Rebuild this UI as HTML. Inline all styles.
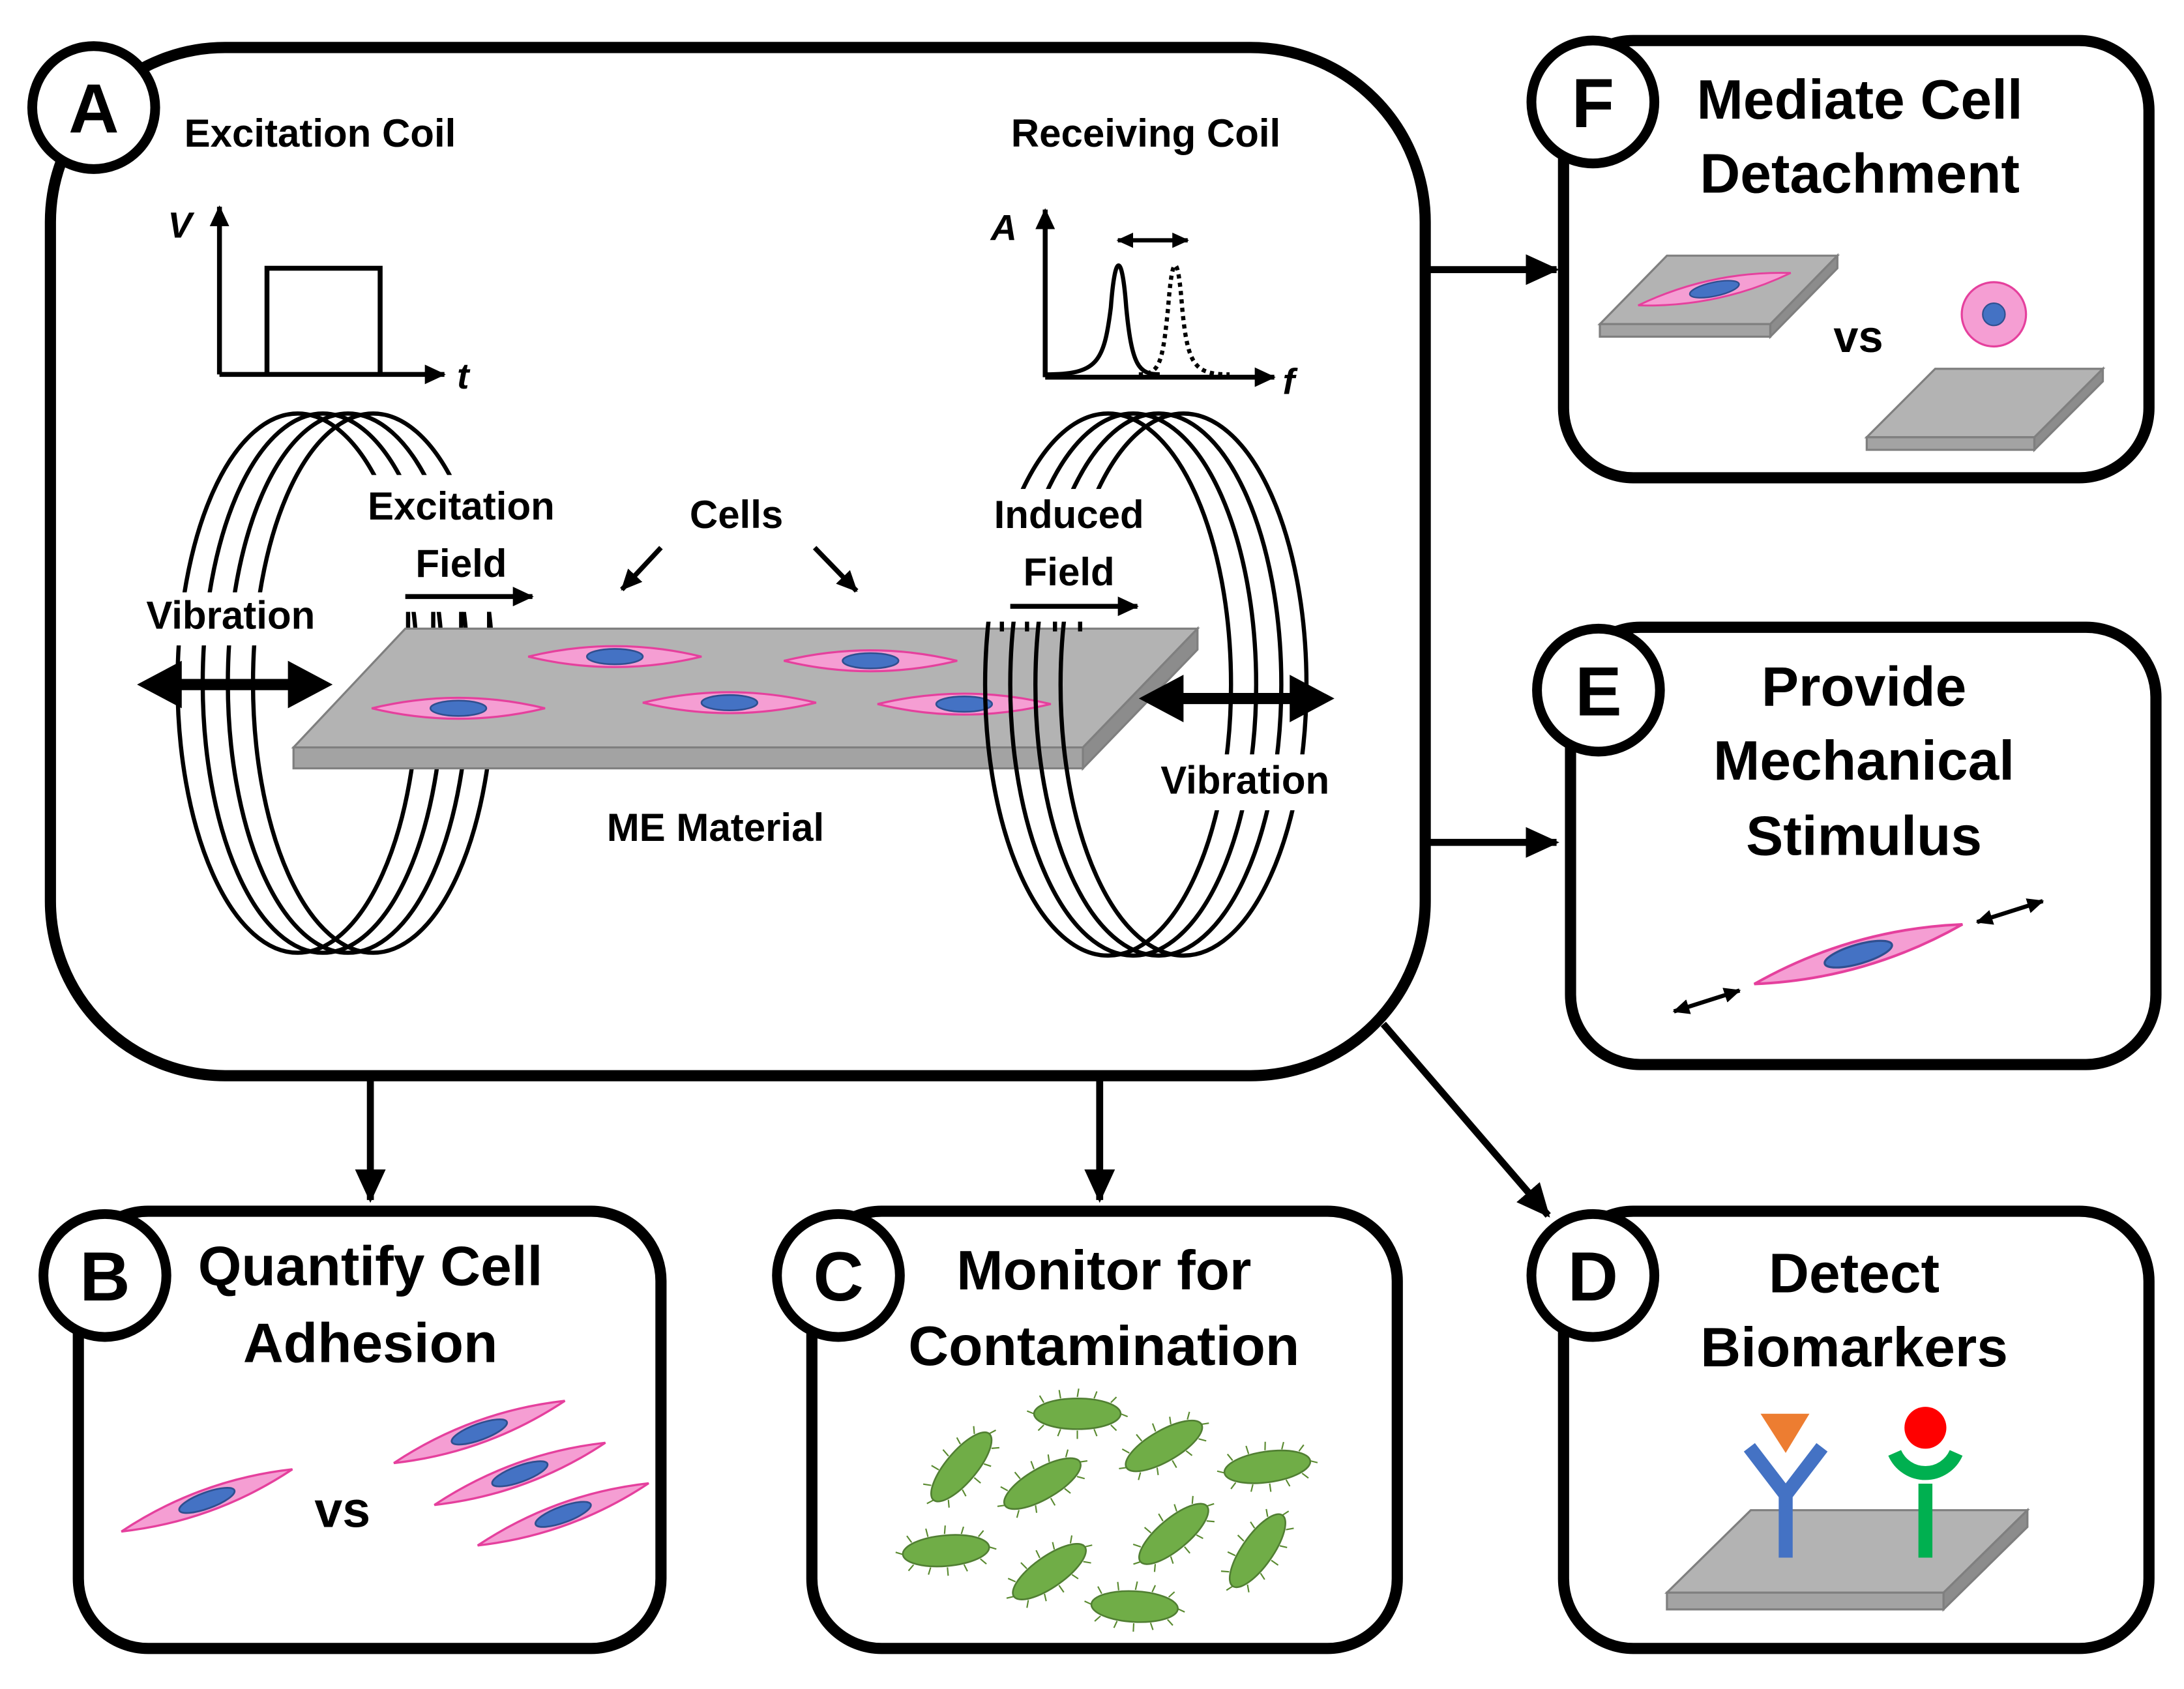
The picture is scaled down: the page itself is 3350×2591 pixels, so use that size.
<!DOCTYPE html>
<html><head><meta charset="utf-8"><style>
html,body{margin:0;padding:0;background:#fff}
svg{display:block}
text{font-family:"Liberation Sans",sans-serif;font-weight:bold;fill:#000}
</style></head><body>
<svg width="3350" height="2591" viewBox="0 0 1563 1209" xmlns="http://www.w3.org/2000/svg">
<defs>
<marker id="big" markerWidth="24" markerHeight="22" refX="22" refY="11" orient="auto" markerUnits="userSpaceOnUse"><path d="M0,0 L24,11 L0,22 z" fill="#000"/></marker>
<marker id="sm" markerWidth="15" markerHeight="14" refX="14" refY="7" orient="auto-start-reverse" markerUnits="userSpaceOnUse"><path d="M0,0 L15,7 L0,14 z" fill="#000"/></marker>
<marker id="xs" markerWidth="12" markerHeight="11" refX="11" refY="5.5" orient="auto-start-reverse" markerUnits="userSpaceOnUse"><path d="M0,0 L12,5.5 L0,11 z" fill="#000"/></marker>
<g id="cell"><path d="M-62,0 Q0,-15 62,0 Q0,15 -62,0 z" fill="#f59ed3" stroke="#e5409d" stroke-width="1.5"/><ellipse cx="0" cy="0" rx="20" ry="5.5" fill="#4472c4" stroke="#2f4f8f" stroke-width="1.2"/></g>
<g id="bac"><g stroke="#5a8a30" stroke-width="1" fill="none">
<path d="M-24,-8 l-3,-5 M-12,-11 l-1,-6 M0,-12 l1,-6 M12,-11 l2,-5 M24,-8 l4,-4 M-24,8 l-4,4 M-12,11 l-2,5 M0,12 l0,6 M12,11 l2,5 M24,8 l4,4 M-31,0 l-5,-2 M31,0 l5,2"/></g>
<ellipse rx="31" ry="11" fill="#70ad47" stroke="#507e32" stroke-width="1.2"/></g>
</defs>

<!-- connectors -->
<g stroke="#000" stroke-width="5" fill="none">
<line x1="1020" y1="193" x2="1114" y2="193" marker-end="url(#big)"/>
<line x1="1020" y1="603" x2="1114" y2="603" marker-end="url(#big)"/>
<line x1="265" y1="770" x2="265" y2="859" marker-end="url(#big)"/>
<line x1="787" y1="770" x2="787" y2="859" marker-end="url(#big)"/>
<line x1="990" y1="733" x2="1108" y2="870" marker-end="url(#big)"/>
</g>

<!-- boxes -->
<g fill="#fff" stroke="#000" stroke-width="8">
<rect x="36" y="34" width="984" height="736" rx="125"/>
<rect x="1119" y="29" width="419" height="313" rx="50"/>
<rect x="1124" y="449" width="419" height="313" rx="50"/>
<rect x="56" y="867" width="417" height="313" rx="50"/>
<rect x="581" y="867" width="419" height="313" rx="50"/>
<rect x="1119" y="867" width="419" height="313" rx="50"/>
</g>
<g fill="#fff" stroke="#000" stroke-width="7">
<circle cx="67" cy="77" r="44"/><circle cx="1140" cy="73" r="44"/><circle cx="1144" cy="494" r="44"/>
<circle cx="75" cy="913" r="44"/><circle cx="600" cy="913" r="44"/><circle cx="1140" cy="913" r="44"/>
</g>
<g font-size="50" text-anchor="middle">
<text x="67" y="95">A</text><text x="1140" y="91">F</text><text x="1144" y="512">E</text>
<text x="75" y="931">B</text><text x="600" y="931">C</text><text x="1140" y="931">D</text>
</g>

<!-- graphs -->
<g stroke="#000" stroke-width="3.5" fill="none">
<line x1="157" y1="268" x2="157" y2="148" marker-end="url(#sm)"/>
<line x1="157" y1="268" x2="318" y2="268" marker-end="url(#sm)"/>
<path d="M191,268 V192 H272 V268"/>
<line x1="748" y1="270" x2="748" y2="150" marker-end="url(#sm)"/>
<line x1="748" y1="270" x2="912" y2="270" marker-end="url(#sm)"/>
<path d="M748,268 C785,268 790,260 795,220 C798,180 803,180 806,220 C810,262 815,268 830,268" stroke-width="3"/>
<path d="M815,268 C830,268 832,260 836,220 C839,180 843,180 846,220 C850,262 855,268 880,268" stroke-dasharray="3,3" stroke-width="3"/>
<line x1="800" y1="172" x2="850" y2="172" stroke-width="3" marker-start="url(#xs)" marker-end="url(#xs)"/>
</g>
<g font-size="26" font-style="italic">
<text x="120" y="170">V</text><text x="327" y="278">t</text>
<text x="709" y="172">A</text><text x="918" y="282">f</text>
</g>

<!-- left coil (behind plate) -->
<g stroke="#000" stroke-width="3" fill="none">
<ellipse cx="213" cy="489" rx="86" ry="193"/><ellipse cx="231" cy="489" rx="86" ry="193"/>
<ellipse cx="249" cy="489" rx="86" ry="193"/><ellipse cx="267" cy="489" rx="86" ry="193"/>
</g>
<!-- white label backs -->
<g fill="#fff">
<rect x="258" y="340" width="145" height="98"/>
<rect x="96" y="424" width="140" height="38"/>
</g>
<g stroke="#000" stroke-width="3" fill="none">
<path d="M292,438 V450 M310,438 V450 M330,438 V450 M350,438 V450"/>
</g>
<!-- plate -->
<g stroke="#7f7f7f" stroke-width="1.5">
<path d="M210,535 L290,450 L857,450 L775,535 z" fill="#b3b3b3"/>
<path d="M210,535 H775 V550 H210 z" fill="#a3a3a3"/>
<path d="M775,535 L857,450 V465 L775,550 z" fill="#8c8c8c"/>
</g>
<use href="#cell" transform="translate(440,470)"/>
<use href="#cell" transform="translate(623,473)"/>
<use href="#cell" transform="translate(328,507)"/>
<use href="#cell" transform="translate(522,503)"/>
<use href="#cell" transform="translate(690,504)"/>
<!-- right coil (front) -->
<g stroke="#000" stroke-width="3" fill="none">
<ellipse cx="793" cy="490" rx="88" ry="194"/><ellipse cx="811" cy="490" rx="88" ry="194"/>
<ellipse cx="829" cy="490" rx="88" ry="194"/><ellipse cx="847" cy="490" rx="88" ry="194"/>
</g>
<g fill="#fff">
<rect x="703" y="350" width="120" height="95"/>
<rect x="823" y="540" width="138" height="40"/>
</g>
<g stroke="#000" stroke-width="3" fill="none">
<path d="M717,445 V452 M735,445 V452 M755,445 V452 M773,445 V452"/>
</g>

<g font-size="28" text-anchor="middle">
<text x="229" y="105">Excitation Coil</text>
<text x="820" y="105">Receiving Coil</text>
<text x="330" y="372">Excitation</text><text x="330" y="413">Field</text>
<text x="527" y="378">Cells</text>
<text x="765" y="378">Induced</text><text x="765" y="419">Field</text>
<text x="165" y="450">Vibration</text>
<text x="891" y="568">Vibration</text>
<text x="512" y="602">ME Material</text>
</g>
<g stroke="#000" stroke-width="3.5" fill="none">
<line x1="290" y1="427" x2="381" y2="427" marker-end="url(#sm)"/>
<line x1="723" y1="434" x2="814" y2="434" marker-end="url(#sm)"/>
<line x1="473" y1="392" x2="445" y2="422" marker-end="url(#sm)"/>
<line x1="583" y1="392" x2="613" y2="423" marker-end="url(#sm)"/>
</g>
<!-- thick vibration arrows -->
<g fill="#000">
<path d="M98,490 L130,473 L130,486 L206,486 L206,473 L238,490 L206,507 L206,494 L130,494 L130,507 z"/>
<path d="M815,500 L847,483 L847,496 L923,496 L923,483 L955,500 L923,517 L923,504 L847,504 L847,517 z"/>
</g>

<!-- F -->
<g font-size="40" text-anchor="middle"><text x="1331" y="85">Mediate Cell</text><text x="1331" y="138">Detachment</text></g>
<g stroke="#7f7f7f" stroke-width="1.5">
<path d="M1145,232 L1193,183 L1315,183 L1267,232 z" fill="#b3b3b3"/><path d="M1145,232 H1267 V241 H1145 z" fill="#a3a3a3"/><path d="M1267,232 L1315,183 V192 L1267,241 z" fill="#8c8c8c"/>
<path d="M1336,313 L1385,264 L1505,264 L1456,313 z" fill="#b3b3b3"/><path d="M1336,313 H1456 V322 H1336 z" fill="#a3a3a3"/><path d="M1456,313 L1505,264 V273 L1456,322 z" fill="#8c8c8c"/>
</g>
<use href="#cell" transform="translate(1227,207) rotate(-12) scale(0.9)"/>
<circle cx="1427" cy="225" r="23" fill="#f59ed3" stroke="#e5409d" stroke-width="1.5"/><circle cx="1427" cy="225" r="8" fill="#4472c4" stroke="#2f4f8f"/>
<text x="1330" y="252" font-size="32" text-anchor="middle">vs</text>

<!-- E -->
<g font-size="40" text-anchor="middle"><text x="1334" y="505">Provide</text><text x="1334" y="558">Mechanical</text><text x="1334" y="612">Stimulus</text></g>
<use href="#cell" transform="translate(1330,683) rotate(-16) scale(1.25)"/>
<g stroke="#000" stroke-width="3" fill="none">
<line x1="1198" y1="724" x2="1245" y2="709" marker-start="url(#xs)" marker-end="url(#xs)"/>
<line x1="1415" y1="660" x2="1462" y2="645" marker-start="url(#xs)" marker-end="url(#xs)"/>
</g>

<!-- B -->
<g font-size="40" text-anchor="middle"><text x="265" y="920">Quantify Cell</text><text x="265" y="975">Adhesion</text></g>
<use href="#cell" transform="translate(148,1074) rotate(-20) scale(1.05)"/>
<use href="#cell" transform="translate(343,1025) rotate(-20) scale(1.05)"/>
<use href="#cell" transform="translate(372,1055) rotate(-20) scale(1.05)"/>
<use href="#cell" transform="translate(403,1084) rotate(-20) scale(1.05)"/>
<text x="245" y="1093" font-size="36" text-anchor="middle">vs</text>

<!-- C -->
<g font-size="40" text-anchor="middle"><text x="790" y="923">Monitor for</text><text x="790" y="977">Contamination</text></g>
<use href="#bac" transform="translate(771,1012)"/>
<use href="#bac" transform="translate(688,1050) rotate(-50)"/>
<use href="#bac" transform="translate(746,1062) rotate(-30)"/>
<use href="#bac" transform="translate(833,1035) rotate(-30)"/>
<use href="#bac" transform="translate(907,1050) rotate(-8)"/>
<use href="#bac" transform="translate(677,1110) rotate(-5)"/>
<use href="#bac" transform="translate(751,1125) rotate(-35)"/>
<use href="#bac" transform="translate(840,1098) rotate(-40)"/>
<use href="#bac" transform="translate(900,1110) rotate(-55)"/>
<use href="#bac" transform="translate(812,1150) rotate(3)"/>

<!-- D -->
<g font-size="40" text-anchor="middle"><text x="1327" y="925">Detect</text><text x="1327" y="978">Biomarkers</text></g>
<g stroke="#7f7f7f" stroke-width="1.5">
<path d="M1193,1140 L1253,1081 L1451,1081 L1391,1140 z" fill="#b3b3b3"/><path d="M1193,1140 H1391 V1152 H1193 z" fill="#a3a3a3"/><path d="M1391,1140 L1451,1081 V1093 L1391,1152 z" fill="#8c8c8c"/>
</g>
<g fill="none" stroke-width="10">
<path d="M1278,1115 V1068 M1278,1070 L1252,1036 M1278,1070 L1304,1036" stroke="#4472c4"/>
<path d="M1378,1115 V1062" stroke="#00b050"/>
<path d="M1356,1040 A24,24 0 0 0 1400,1040" stroke="#00b050"/>
</g>
<path d="M1260,1012 L1295,1012 L1278,1040 z" fill="#ed7d31"/>
<circle cx="1378" cy="1022" r="15" fill="#ff0000"/>
</svg>
</body></html>
